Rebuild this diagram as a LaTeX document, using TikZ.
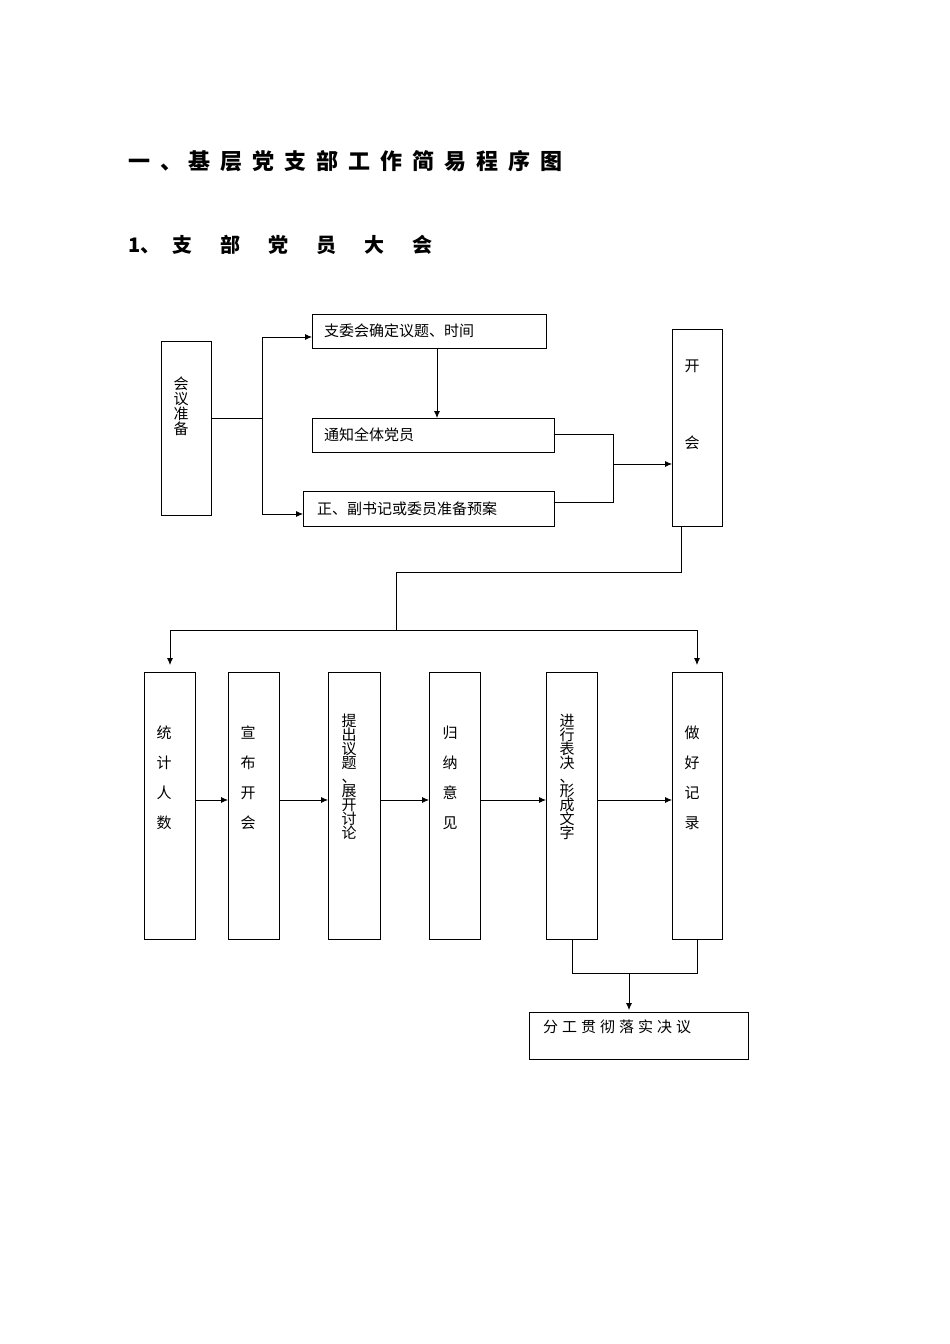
\documentclass[tikz,border=0pt]{standalone}
\usepackage{fontspec}
\newfontfamily\cjk{Noto Sans CJK SC}
\usetikzlibrary{arrows.meta}
\tikzset{box/.style={draw,thick,minimum width=0pt,inner sep=0pt},
 ln/.style={thick},
 arr/.style={thick,-{Latex[length=7pt,width=6pt]}},
 tx/.style={font=\cjk\fontsize{15}{18}\selectfont,inner sep=0pt},
 vt/.style={tx,align=center}}
\begin{document}
\begin{tikzpicture}[x=1pt,y=-1pt]
\useasboundingbox[fill=white] (0,0) rectangle (950,1344);
\node[anchor=west,font=\cjk\bfseries\fontsize{22}{26}\selectfont,inner sep=0pt] (t1) at (128,161) {一\hspace{10pt}、\hspace{6pt}基\hspace{10pt}层\hspace{10pt}党\hspace{10pt}支\hspace{10pt}部\hspace{10pt}工\hspace{10pt}作\hspace{10pt}简\hspace{10pt}易\hspace{10pt}程\hspace{10pt}序\hspace{10pt}图};
\node[anchor=west,font=\cjk\bfseries\fontsize{20}{24}\selectfont,inner sep=0pt] (t2) at (128,245) {1、\hspace{12pt}支\hspace{28pt}部\hspace{28pt}党\hspace{28pt}员\hspace{28pt}大\hspace{28pt}会};
% top boxes
\draw[box] (161,341) rectangle (211,515);
\node[vt] (hy) at (181,406) {会\\[-3pt]议\\[-3pt]准\\[-3pt]备};
\coordinate (hyr) at (211,418);
\draw[box] (312,314) rectangle (546,348);
\node[tx,anchor=west] (zw) at (324,331) {支委会确定议题、时间};
\draw[box] (312,418) rectangle (554,452);
\node[tx,anchor=west] (tz) at (324,435) {通知全体党员};
\draw[box] (303,491) rectangle (554,526);
\node[tx,anchor=west] (zf) at (317,509) {正、副书记或委员准备预案};
\draw[box] (672,329) rectangle (722,526);
\node[tx] (kh1) at (692,366) {开};
\node[tx] (kh2) at (692,443) {会};
\coordinate (a0) at (262,418);
\coordinate (a1) at (262,337);
\coordinate (a2) at (262,514);
\draw[ln] (hyr) -- (a0);
\draw[ln] (a1) -- (a2);
\draw[arr] (a1) -- (312,337);
\draw[arr] (a2) -- (303,514);
\draw[arr] (437,348) -- (437,418);
\draw[ln] (554,434) -- (613,434) -- (613,502) -- (554,502);
\draw[arr] (613,464) -- (672,464);
\draw[ln] (681,526) -- (681,572) -- (396,572) -- (396,630);
\draw[ln] (170,630) -- (697,630);
\draw[arr] (170,630) -- (170,665);
\draw[arr] (697,630) -- (697,665);
% bottom column boxes
\foreach \xa/\xb in {144/195,228/279,328/380,429/480,546/597,672/722}
  \draw[box] (\xa,672) rectangle (\xb,939);
\node[vt] (c1) at (164,778) {统\\[12pt]计\\[12pt]人\\[12pt]数};
\node[vt] (c2) at (248,778) {宣\\[12pt]布\\[12pt]开\\[12pt]会};
\node[vt,anchor=north] (c3) at (349,714) {提\\[-4pt]出\\[-4pt]议\\[-4pt]题\\[-4pt]、\\[-4pt]展\\[-4pt]开\\[-4pt]讨\\[-4pt]论};
\node[vt] (c4) at (450,778) {归\\[12pt]纳\\[12pt]意\\[12pt]见};
\node[vt,anchor=north] (c5) at (567,714) {进\\[-4pt]行\\[-4pt]表\\[-4pt]决\\[-4pt]、\\[-4pt]形\\[-4pt]成\\[-4pt]文\\[-4pt]字};
\node[vt] (c6) at (692,778) {做\\[12pt]好\\[12pt]记\\[12pt]录};
\draw[arr] (195,800) -- (228,800);
\draw[arr] (279,800) -- (328,800);
\draw[arr] (380,800) -- (429,800);
\draw[arr] (480,800) -- (546,800);
\draw[arr] (597,800) -- (672,800);
\draw[ln] (572,939) -- (572,973) -- (697,973) -- (697,939);
\draw[arr] (629,973) -- (629,1010);
\draw[box] (529,1012) rectangle (748,1059);
\node[tx,anchor=west] (fg) at (543,1027) {分\hspace{4pt}工\hspace{4pt}贯\hspace{4pt}彻\hspace{4pt}落\hspace{4pt}实\hspace{4pt}决\hspace{4pt}议};
\end{tikzpicture}
\end{document}
